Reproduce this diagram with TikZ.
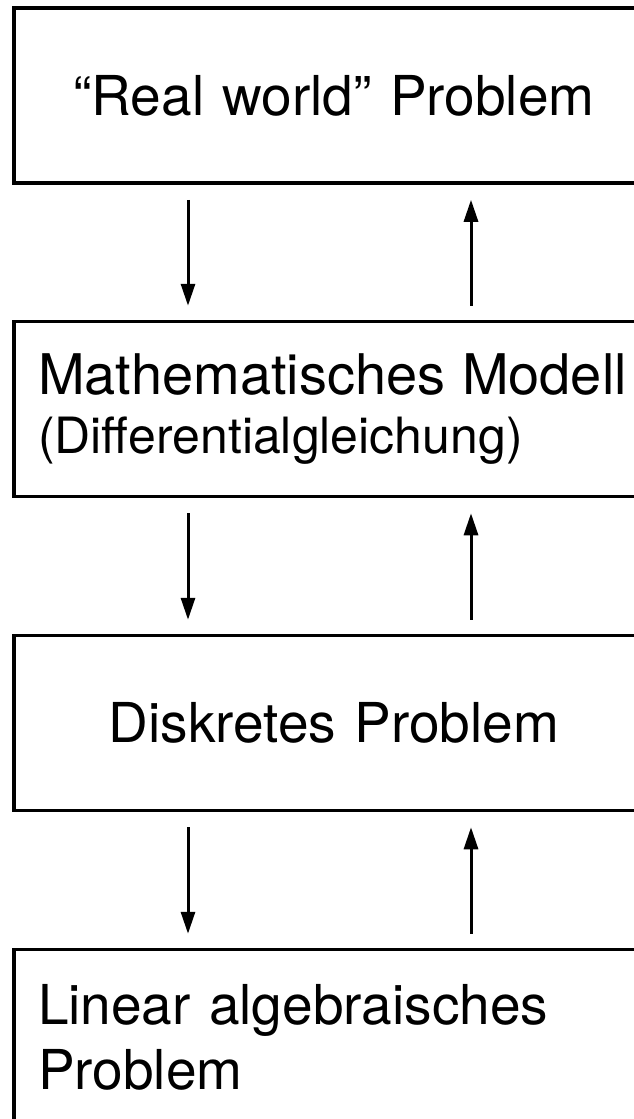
\documentclass[tikz,border=0pt]{standalone}
\usepackage{fontspec}
\setmainfont{TeX Gyre Heros}
\usetikzlibrary{arrows.meta}
\begin{document}
\begin{tikzpicture}[x=1pt,y=1pt,
  stage/.style={draw, line width=3.5pt, rectangle, minimum width=640pt, minimum height=175pt,
    inner xsep=24pt, text width=592pt, font=\fontsize{55}{65}\selectfont},
  flow/.style={line width=3pt, -{Triangle[width=14pt,length=22pt]}}]
\useasboundingbox (0,0) rectangle (634,-1119);
\clip (0,0) rectangle (634,-1119);
\node[stage, align=center] (b1) at (334,-95.5) {“Real world” Problem};
\node[stage, align=left, font=\fontsize{50}{59}\selectfont] (b2) at (334,-409)
  {{\fontsize{56}{59}\selectfont Mathematisches Modell}\\(Differentialgleichung)};
\node[stage, align=center] (b3) at (334,-723) {Diskretes Problem};
\node[stage, align=left] (b4) at (334,-1037) {Linear algebraisches\\Problem};
\foreach \a/\b in {b1/b2, b2/b3, b3/b4}{
  \draw[flow] ([xshift=-146pt,yshift=-15pt]\a.south) -- ([xshift=-146pt,yshift=14pt]\b.north);
  \draw[flow] ([xshift=137pt,yshift=14pt]\b.north) -- ([xshift=137pt,yshift=-15pt]\a.south);
}
\end{tikzpicture}
\end{document}
